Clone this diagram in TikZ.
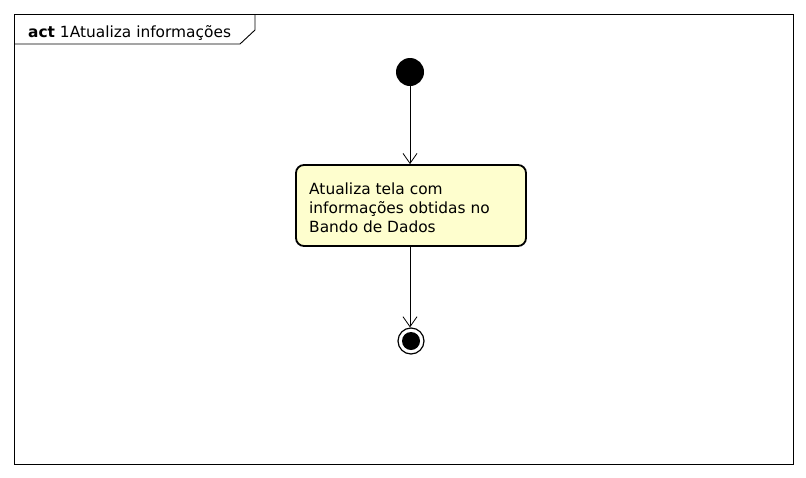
\documentclass[tikz,border=0pt]{standalone}
\usepackage{fontspec}
\setmainfont{DejaVu Sans}
\usetikzlibrary{arrows.meta}
\definecolor{actfill}{HTML}{FEFECE}
\tikzset{
  conn/.style={draw=black, line width=0.8pt, -{Straight Barb[length=10pt,width=14pt,line width=0.8pt]}},
  actbox/.style={draw=black, fill=actfill, line width=1.8pt, rounded corners=8pt, minimum width=230pt, minimum height=81pt, inner sep=0pt},
  lbl/.style={font=\fontsize{15.4pt}{19pt}\selectfont, align=left, inner sep=0pt}
}
\begin{document}
\begin{tikzpicture}[x=1pt,y=-1pt]
\useasboundingbox[fill=white] (0,0) rectangle (806,477);
% frame
\draw[line width=0.9pt] (14,14) rectangle (793,464);
\draw[line width=0.9pt] (14,44) -- (240,44) -- (255,30) -- (255,14);
\node[lbl, anchor=base west] (title) at (28,37) {\textbf{act} 1Atualiza informações};
% start
\node[circle, fill=black, minimum size=28pt, inner sep=0pt] (start) at (410,72) {};
% action
\node[actbox] (act) at (411,205.5) {};
\node[lbl, anchor=base west] (acttext) at (309,232) {Atualiza tela com\\informações obtidas no\\Bando de Dados};
% end
\node[circle, draw=black, line width=1.2pt, fill=white, minimum size=26pt, inner sep=0pt] (endc) at (411,341) {};
\node[circle, fill=black, minimum size=18pt, inner sep=0pt] (endi) at (411,341) {};
\draw[conn] (start) -- (act.north -| start);
\draw[conn] (act.south -| start) -- (endc.north -| start);
\end{tikzpicture}
\end{document}
